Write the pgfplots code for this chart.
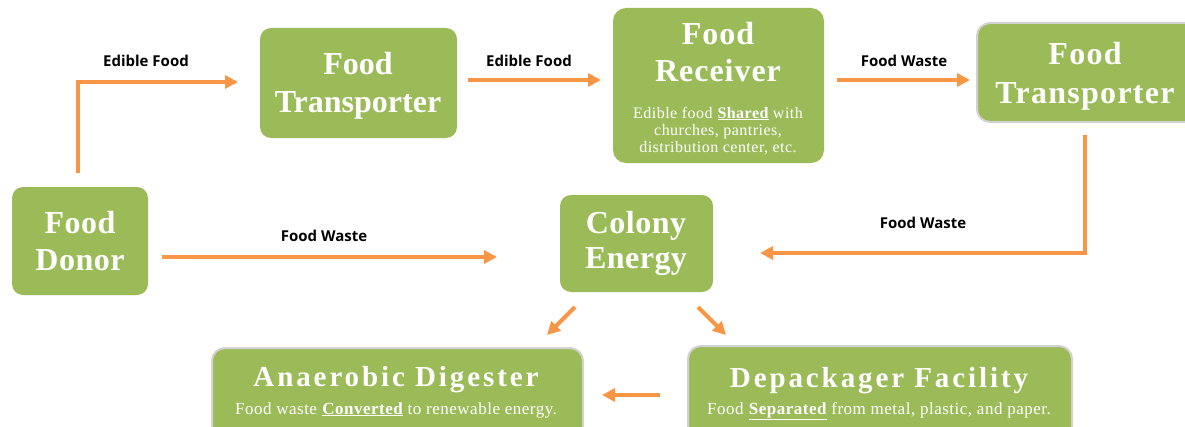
\documentclass[border=0pt]{standalone}
\usepackage{fontspec}
\setmainfont{Liberation Serif}
\newfontfamily\labfont{Open Sans}
\usepackage{pgfplots}
\pgfplotsset{compat=1.18}
\usetikzlibrary{arrows.meta}
\definecolor{gbox}{HTML}{9BBB59}
\definecolor{arr}{HTML}{F79646}
\definecolor{bord}{HTML}{D2D2D2}
\newcommand\TT[2]{\fontsize{#1bp}{#1bp}\selectfont\bfseries\addfontfeature{LetterSpace=#2}}
\newcommand\ST[2]{\fontsize{#1bp}{#1bp}\selectfont\addfontfeature{LetterSpace=#2}}
\newcommand\LB{\fontsize{15bp}{15bp}\selectfont\labfont\bfseries}
\tikzset{wt/.style={inner sep=0pt, text=white, anchor=base}, bt/.style={inner sep=0pt, text=black}}
\begin{document}
\begin{tikzpicture}
\begin{axis}[name=ax, width=1185bp, height=426bp, scale only axis,
  xmin=0, xmax=1185, ymin=0, ymax=426, y dir=reverse, hide axis, clip=true]
% boxes
\draw[fill=gbox, draw=none, rounded corners=11bp] (axis cs:12,187) rectangle (axis cs:148,295);
\draw[fill=gbox, draw=none, rounded corners=11bp] (axis cs:260,28) rectangle (axis cs:457,138);
\draw[fill=gbox, draw=none, rounded corners=13bp] (axis cs:613,8) rectangle (axis cs:824,163);
\draw[fill=gbox, draw=bord, line width=2bp, rounded corners=13bp] (axis cs:977,23) rectangle (axis cs:1200,122);
\draw[fill=gbox, draw=none, rounded corners=11bp] (axis cs:560,195) rectangle (axis cs:713,292);
\draw[fill=gbox, draw=bord, line width=2bp, rounded corners=13bp] (axis cs:212,348) rectangle (axis cs:583,440);
\draw[fill=gbox, draw=bord, line width=2bp, rounded corners=13bp] (axis cs:688,346) rectangle (axis cs:1072,440);
% arrows
\pgfplotsset{arrstyle/.style={arr, line width=4bp, no markers, line join=miter, -{Triangle[length=13bp,width=13bp]}}}
\addplot[arrstyle] coordinates {(78,173) (78,82) (238,82)};
\addplot[arrstyle] coordinates {(468,80) (601,80)};
\addplot[arrstyle] coordinates {(837,80) (970,80)};
\addplot[arrstyle] coordinates {(1085,135) (1085,253) (760,253)};
\addplot[arrstyle] coordinates {(162,257) (497,257)};
\addplot[arrstyle] coordinates {(575,307) (547,335)};
\addplot[arrstyle] coordinates {(698,307) (726,335)};
\addplot[arrstyle] coordinates {(660,395) (602,395)};
% arrow labels
\node[bt] at (axis cs:146,61) {\LB Edible Food};
\node[bt] at (axis cs:529,61) {\LB Edible Food};
\node[bt] at (axis cs:904,61) {\LB Food Waste};
\node[bt] at (axis cs:923,223) {\LB Food Waste};
\node[bt] at (axis cs:324,236) {\LB Food Waste};
% box titles
\node[wt] at (axis cs:80,233) {\TT{32}{1.5}Food};
\node[wt] at (axis cs:80,270) {\TT{32}{1.5}Donor};
\node[wt] at (axis cs:358,75) {\TT{32}{0}Food};
\node[wt] at (axis cs:358,112) {\TT{32}{0}Transporter};
\node[wt] at (axis cs:718,45) {\TT{32}{3}Food};
\node[wt] at (axis cs:718,82) {\TT{32}{3}Receiver};
\node[wt] at (axis cs:718,118) {\ST{16}{3}Edible food \textbf{\underline{Shared}} with};
\node[wt] at (axis cs:718,135) {\ST{16}{3}churches, pantries,};
\node[wt] at (axis cs:718,152) {\ST{16}{3}distribution center, etc.};
\node[wt] at (axis cs:1085,65) {\TT{32}{4}Food};
\node[wt] at (axis cs:1085,103) {\TT{32}{4}Transporter};
\node[wt] at (axis cs:636,233) {\TT{32}{1.5}Colony};
\node[wt] at (axis cs:636,268) {\TT{32}{1.5}Energy};
\node[wt] at (axis cs:396,386) {\TT{29}{10}Anaerobic Digester};
\node[wt] at (axis cs:396,414) {\ST{17}{3}Food waste \textbf{\underline{Converted}} to renewable energy.};
\node[wt] at (axis cs:879,387) {\TT{29}{10}Depackager Facility};
\node[wt] at (axis cs:879,414) {\ST{17}{3}Food \textbf{\underline{Separated}} from metal, plastic, and paper.};
\end{axis}
\pgfresetboundingbox
\useasboundingbox (ax.south west) rectangle (ax.north east);
\end{tikzpicture}
\end{document}
